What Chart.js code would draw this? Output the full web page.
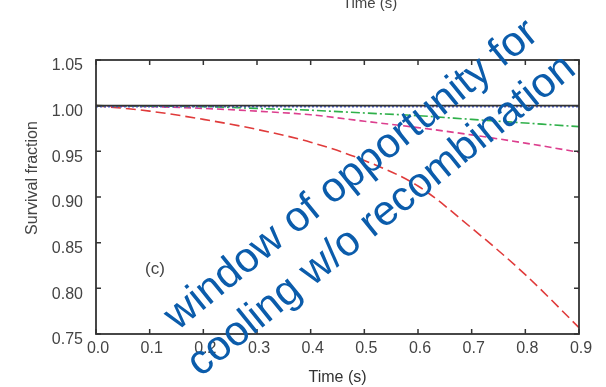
<!DOCTYPE html>
<html>
<head>
<meta charset="utf-8">
<script src="https://cdn.jsdelivr.net/npm/chart.js@4.4.1/dist/chart.umd.min.js"></script>
<style>
  html, body { margin: 0; padding: 0; background: #fff; }
  #wrap { width: 606px; height: 387px; }
</style>
</head>
<body>
<div id="wrap"><canvas id="survival"></canvas></div>
<script>
// data
var times = [0.0, 0.1, 0.2, 0.3, 0.4, 0.5, 0.6, 0.7, 0.8, 0.9];
var blackSolid = [1.000, 1.000, 1.000, 1.000, 1.000, 1.000, 1.000, 1.000, 1.000, 1.000];
var blueDotted = [0.999, 0.999, 0.999, 0.999, 0.999, 0.999, 0.999, 0.999, 0.999, 0.999];
var greenDashDot = [1.000, 0.9995, 0.999, 0.997, 0.995, 0.992, 0.989, 0.985, 0.981, 0.977];
var magentaDashed = [1.000, 0.999, 0.997, 0.994, 0.990, 0.983, 0.976, 0.968, 0.959, 0.949];
var redDashed = [1.000, 0.994, 0.985, 0.974, 0.960, 0.940, 0.912, 0.866, 0.815, 0.757];

var xTicks = [0.0, 0.1, 0.2, 0.3, 0.4, 0.5, 0.6, 0.7, 0.8, 0.9];
var yTicks = [0.75, 0.80, 0.85, 0.90, 0.95, 1.00, 1.05];

var FONT = "'Liberation Sans', Arial, sans-serif";
var TEXT = "#444444";
var FRAME = "#333333";

function pts(ys) {
    return times.map(function (t, i) { return {x: t, y: ys[i]}; });
}

function line(label, ys, color, dash) {
    return {
        label: label,
        data: pts(ys),
        borderColor: color,
        borderWidth: 1.6,
        borderDash: dash,
        pointRadius: 0,
        fill: false,
        cubicInterpolationMode: "monotone"
    };
}

// frame, inward ticks, y title, "(c)" and the blue note
var extras = {
    id: "extras",
    afterDraw: function (chart) {
        var ctx = chart.ctx;
        var a = chart.chartArea;
        var sx = chart.scales.x, sy = chart.scales.y;
        ctx.save();
        ctx.strokeStyle = FRAME;
        ctx.lineWidth = 1.8;
        ctx.strokeRect(a.left, a.top, a.right - a.left, a.bottom - a.top);
        ctx.lineWidth = 1.5;
        ctx.beginPath();
        xTicks.forEach(function (v) {
            var px = sx.getPixelForValue(v);
            ctx.moveTo(px, a.bottom); ctx.lineTo(px, a.bottom - 5);
            ctx.moveTo(px, a.top); ctx.lineTo(px, a.top + 5);
        });
        yTicks.forEach(function (v) {
            var py = sy.getPixelForValue(v);
            ctx.moveTo(a.left, py); ctx.lineTo(a.left + 5, py);
            ctx.moveTo(a.right, py); ctx.lineTo(a.right - 5, py);
        });
        ctx.stroke();

        ctx.fillStyle = TEXT;
        ctx.font = "17px " + FONT;
        ctx.textAlign = "center";
        ctx.textBaseline = "middle";
        ctx.fillText("(c)", 155, 269);

        // y axis title
        ctx.save();
        ctx.translate(33, 178);
        ctx.rotate(-Math.PI / 2);
        ctx.font = "16px " + FONT;
        ctx.fillText("Survival fraction", 0, 0);
        ctx.restore();

        // leftover title of the panel above
        ctx.font = "15px " + FONT;
        ctx.textBaseline = "alphabetic";
        ctx.fillText("Time (s)", 370, 8);

        ctx.fillStyle = "#0b5cab";
        ctx.font = "42px " + FONT;
        ctx.textAlign = "center";
        ctx.textBaseline = "alphabetic";
        var ang = -39 * Math.PI / 180;
        ctx.save();
        ctx.translate(359, 184);
        ctx.rotate(ang);
        ctx.fillText("window of opportunity for", 0, 0);
        ctx.restore();
        ctx.save();
        ctx.translate(389, 225);
        ctx.rotate(ang);
        ctx.fillText("cooling w/o recombination", 0, 0);
        ctx.restore();
        ctx.restore();
    }
};

var ctx1 = document.getElementById("survival").getContext("2d");
var myChart1 = new Chart(ctx1, {
    type: "line",
    data: {
        datasets: [
            line("black", blackSolid, "#333333", []),
            line("blue", blueDotted, "#4a63d8", [2, 2]),
            line("green", greenDashDot, "#2fb04a", [9, 3, 2, 3]),
            line("magenta", magentaDashed, "#dc3f8e", [7, 4]),
            line("red", redDashed, "#e03b3b", [10, 5])
        ]
    },
    plugins: [extras],
    options: {
        responsive: true,
        maintainAspectRatio: false,
        animation: false,
        layout: { padding: { top: 60, right: 27, left: 0, bottom: 0 } },
        plugins: { legend: { display: false }, tooltip: { enabled: false } },
        scales: {
            x: {
                type: "linear",
                min: 0, max: 0.9,
                afterFit: function (s) { s.height = 53; },
                afterBuildTicks: function (s) { s.ticks = xTicks.map(function (v) { return {value: v}; }); },
                grid: { display: true, drawOnChartArea: false, drawTicks: false, color: "rgba(0,0,0,0)" },
                border: { display: false },
                ticks: {
                    padding: 5,
                    color: TEXT,
                    font: { family: FONT, size: 16 },
                    maxRotation: 0,
                    labelOffset: 2,
                    callback: function (v) { return Number(v).toFixed(1); }
                },
                title: {
                    display: true,
                    text: "Time (s)",
                    color: "#333",
                    font: { family: FONT, size: 16 },
                    padding: { top: 0, bottom: 0 }
                }
            },
            y: {
                type: "linear",
                min: 0.75, max: 1.05,
                afterFit: function (s) { s.width = 96; },
                afterBuildTicks: function (s) { s.ticks = yTicks.map(function (v) { return {value: v}; }); },
                grid: { display: true, drawOnChartArea: false, drawTicks: false, color: "rgba(0,0,0,0)" },
                border: { display: false },
                ticks: {
                    padding: 13,
                    color: TEXT,
                    font: { family: FONT, size: 16 },
                    labelOffset: 6,
                    callback: function (v) { return Number(v).toFixed(2); }
                }
            }
        }
    }
});
</script>
</body>
</html>
